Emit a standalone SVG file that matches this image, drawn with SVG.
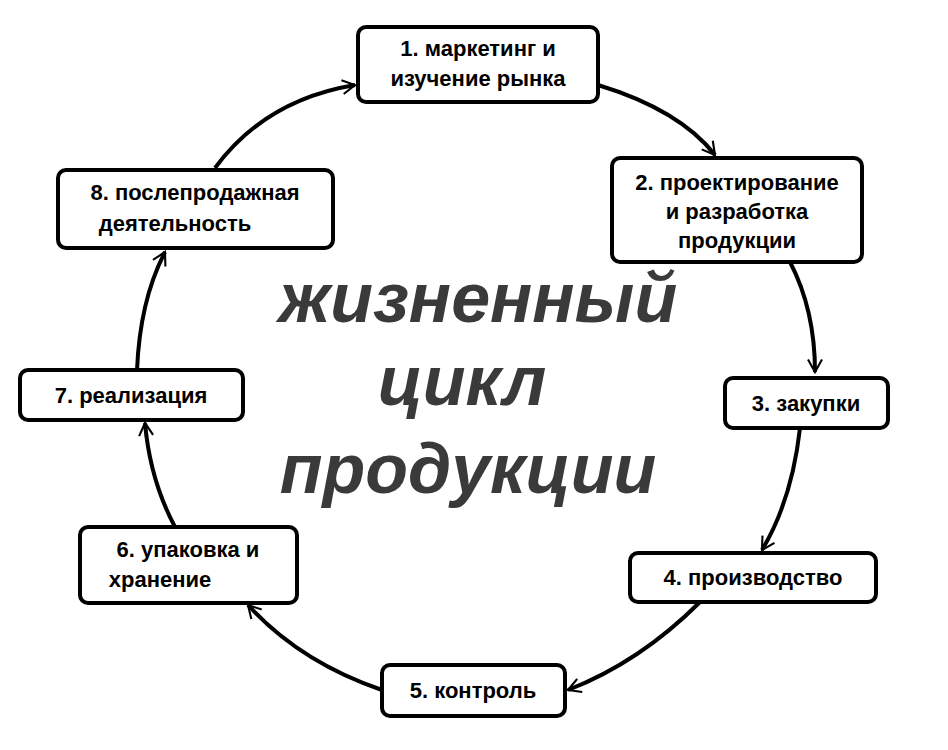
<svg xmlns="http://www.w3.org/2000/svg" width="948" height="750" viewBox="0 0 948 750">
<style>
.b{fill:#fff;stroke:#000;stroke-width:4}
.t{font-family:"Liberation Sans",Arial,sans-serif;font-weight:bold;font-size:22px;fill:#000;text-anchor:middle}
.c{fill:none;stroke:#000;stroke-width:4}
.big{font-family:"Liberation Sans",Arial,sans-serif;font-weight:bold;font-style:italic;font-size:70px;fill:#3a3a3a;text-anchor:middle}
</style>
<defs><marker id="a" viewBox="0 0 20 20" refX="18" refY="10" markerWidth="14" markerHeight="18" markerUnits="userSpaceOnUse" orient="auto" style="overflow:visible"><path d="M0,0 L18,10 L0,20" fill="none" stroke="#000" stroke-width="3"/></marker></defs>
<rect width="948" height="750" fill="#fff"/>
<g id="connectors">
<path class="c" marker-end="url(#a)" d="M215,168 Q265,100 355,85"/>
<path class="c" marker-end="url(#a)" d="M598,85 Q680,110 715,155"/>
<path class="c" marker-end="url(#a)" d="M790,262 Q815,310 815,372"/>
<path class="c" marker-end="url(#a)" d="M800,428 Q792,500 762,550"/>
<path class="c" marker-end="url(#a)" d="M700,602 Q640,662 568,690"/>
<path class="c" marker-end="url(#a)" d="M382,690 Q300,662 248,605"/>
<path class="c" marker-end="url(#a)" d="M175,527 Q150,480 145,423"/>
<path class="c" marker-end="url(#a)" d="M137,370 Q140,300 165,252"/>
</g>
<g id="n1"><rect class="b" x="358" y="27" width="240" height="75" rx="8"/><text class="t" x="478" y="56">1. маркетинг и</text><text class="t" x="478" y="86">изучение рынка</text></g>
<g id="n2"><rect class="b" x="612" y="158" width="250" height="104" rx="8"/><text class="t" x="737" y="190">2. проектирование</text><text class="t" x="737" y="219">и разработка</text><text class="t" x="737" y="248">продукции</text></g>
<g id="n3"><rect class="b" x="725" y="378" width="163" height="50" rx="8"/><text class="t" x="806" y="411">3. закупки</text></g>
<g id="n4"><rect class="b" x="630" y="553" width="246" height="49" rx="8"/><text class="t" x="753" y="585">4. производство</text></g>
<g id="n5"><rect class="b" x="382" y="665" width="183" height="51" rx="8"/><text class="t" x="473" y="698">5. контроль</text></g>
<g id="n6"><rect class="b" x="80" y="527" width="217" height="76" rx="8"/><text class="t" x="188" y="557">6. упаковка и</text><text class="t" x="160" y="587">хранение</text></g>
<g id="n7"><rect class="b" x="20" y="370" width="223" height="50" rx="8"/><text class="t" x="131" y="403">7. реализация</text></g>
<g id="n8"><rect class="b" x="58" y="170" width="275" height="78" rx="8"/><text class="t" x="195" y="200">8. послепродажная</text><text class="t" x="175" y="231">деятельность</text></g>
<g id="title">
<text class="big" x="478" y="322">жизненный</text>
<text class="big" x="462" y="405">цикл</text>
<text class="big" x="468" y="493">продукции</text>
</g>
</svg>
